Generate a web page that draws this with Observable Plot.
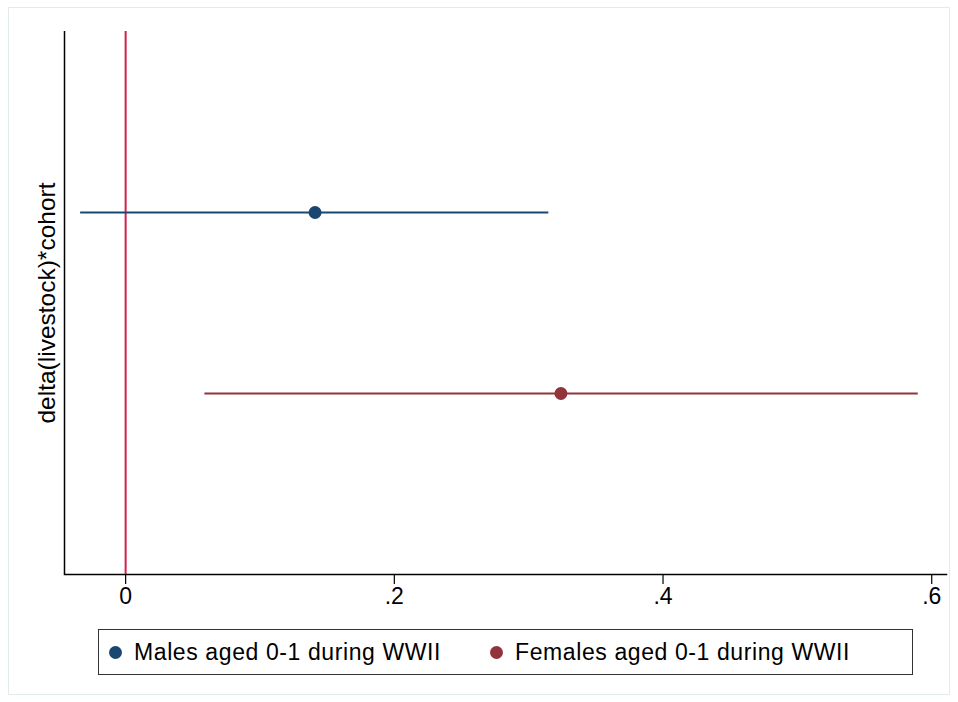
<!DOCTYPE html>
<html>
<head>
<meta charset="utf-8">
<script src="https://cdn.jsdelivr.net/npm/d3@7"></script>
<script src="https://cdn.jsdelivr.net/npm/@observablehq/plot@0.6"></script>
<style>
  html, body { margin: 0; padding: 0; background: #fff; }
  body { width: 958px; height: 702px; position: relative; overflow: hidden; font-family: "Liberation Sans", Arial, sans-serif; }
  #frame { position: absolute; left: 8px; top: 7px; width: 942px; height: 688px; border: 1px solid #e3ebea; box-sizing: border-box; }
  #chart { position: absolute; left: 0; top: 0; }
  #legend { position: absolute; left: 98px; top: 629px; width: 815px; height: 46px; border: 1px solid #333; box-sizing: border-box; }
  .item { position: absolute; top: 0; height: 44px; display: flex; align-items: center; font-size: 23px; letter-spacing: 0.6px; color: #000; }
  .sw { width: 13px; height: 13px; border-radius: 50%; margin-right: 12px; }
</style>
</head>
<body>
<div id="frame"></div>
<div id="chart"></div>
<div id="legend"></div>
<script>
const groups = ["Males aged 0-1 during WWII", "Females aged 0-1 during WWII"];
const estimates = [0.141, 0.324];
const lower = [-0.0335, 0.059];
const upper = [0.315, 0.590];
const colors = ["#1a476f", "#90353b"];
const xTicks = [0, 0.2, 0.4, 0.6];
const yLabel = "delta(livestock)*cohort";

const data = groups.map((g, i) => ({group: g, est: estimates[i], lo: lower[i], hi: upper[i]}));
const xDomain = [-0.0455, 0.611];
const fmt = d => d === 0 ? "0" : d3.format(".1f")(d).replace(/^0/, "");

const plot = Plot.plot({
  width: 958,
  height: 620,
  marginLeft: 64,
  marginRight: 12,
  marginTop: 31,
  marginBottom: 46,
  style: {fontFamily: "'Liberation Sans', Arial, sans-serif", background: "transparent", color: "#000"},
  x: {domain: xDomain},
  y: {domain: groups, type: "point", padding: 1, axis: null},
  color: {domain: groups, range: colors},
  marks: [
    Plot.frame({anchor: "bottom", stroke: "#000", strokeWidth: 1.5}),
    Plot.axisX({ticks: xTicks, tickFormat: fmt, tickSize: 10, tickPadding: 3, fontSize: 23, label: null, stroke: "#000", strokeWidth: 1.2}),
    Plot.ruleX([xDomain[0]], {stroke: "#000", strokeWidth: 1.5}),
    Plot.ruleX([0], {stroke: "#d41f4e", strokeWidth: 2}),
    Plot.ruleY(data, {y: "group", x1: "lo", x2: "hi", stroke: "group", strokeWidth: 2}),
    Plot.dot(data, {y: "group", x: "est", fill: "group", r: 6.5}),
    Plot.text([yLabel], {frameAnchor: "left", textAnchor: "middle", rotate: -90, dx: -17, fontSize: 24.5, fill: "#000"})
  ]
});
document.getElementById("chart").appendChild(plot);

const legend = document.getElementById("legend");
const lx = [10, 391];
groups.forEach((g, i) => {
  const it = document.createElement("div");
  it.className = "item";
  it.style.left = lx[i] + "px";
  const sw = document.createElement("span");
  sw.className = "sw";
  sw.style.background = colors[i];
  const tx = document.createElement("span");
  tx.textContent = g;
  it.appendChild(sw);
  it.appendChild(tx);
  legend.appendChild(it);
});
</script>
</body>
</html>
